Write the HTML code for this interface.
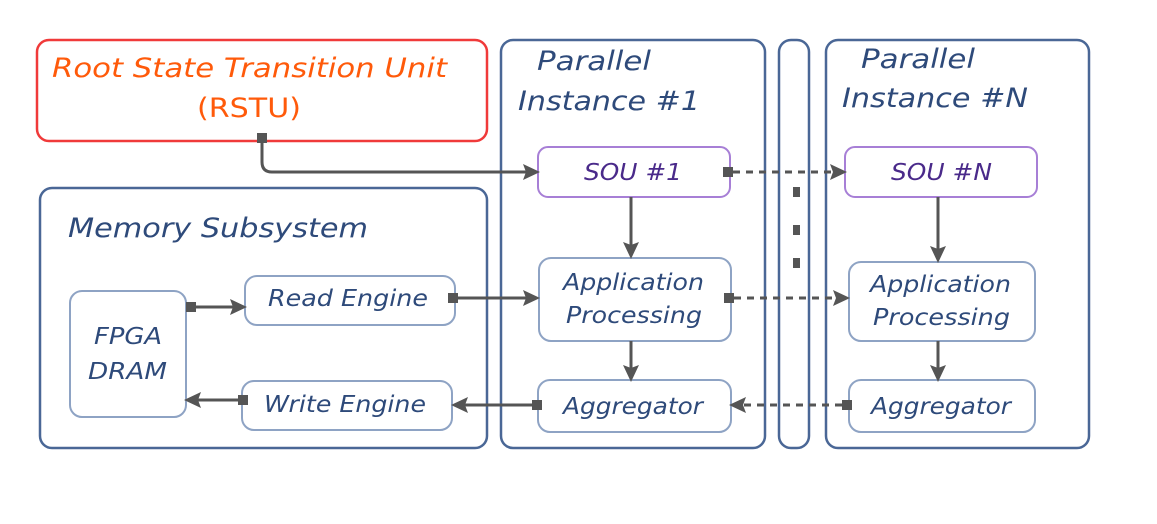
<!DOCTYPE html>
<html><head><style>
html,body{margin:0;padding:0;background:#fff;}
svg text{font-family:"DejaVu Sans","Liberation Sans",sans-serif;font-style:oblique;fill:#2e4a7a;}
</style></head><body>
<svg width="1157" height="519" viewBox="0 0 1157 519" xmlns="http://www.w3.org/2000/svg">
<defs>
<marker id="b" markerWidth="18" markerHeight="18" refX="14" refY="9" orient="auto" markerUnits="userSpaceOnUse"><path d="M0,1 L17,9 L0,17 L3,9 z" fill="#555"/></marker>
</defs>
<g fill="#fff" stroke="#4a6796" stroke-width="2.5">
<rect x="501" y="40" width="264" height="408" rx="12"/>
<rect x="779" y="40" width="30" height="408" rx="12"/>
<rect x="826" y="40" width="263" height="408" rx="12"/>
<rect x="40" y="188" width="447" height="260" rx="12"/>
</g>
<rect x="37" y="40" width="450" height="101" rx="12" fill="#fff" stroke="#f03a3a" stroke-width="2.5"/>
<g fill="#fff" stroke="#a77fd6" stroke-width="2">
<rect x="538" y="147" width="192" height="50" rx="10"/>
<rect x="845" y="147" width="192" height="50" rx="10"/>
</g>
<g fill="#fff" stroke="#8ea3c4" stroke-width="2">
<rect x="539" y="258" width="192" height="83" rx="12"/>
<rect x="849" y="262" width="186" height="79" rx="12"/>
<rect x="538" y="380" width="193" height="52" rx="12"/>
<rect x="849" y="380" width="186" height="52" rx="12"/>
<rect x="70" y="291" width="116" height="126" rx="12"/>
<rect x="245" y="276" width="210" height="49" rx="12"/>
<rect x="242" y="381" width="210" height="49" rx="12"/>
</g>
<g fill="#555">
<rect x="793" y="187" width="7" height="10"/><rect x="793" y="225" width="7" height="10"/><rect x="793" y="258" width="7" height="10"/>
<rect x="257" y="133" width="10" height="10"/>
<rect x="723" y="167" width="10" height="10"/>
<rect x="448" y="293" width="10" height="10"/>
<rect x="724" y="293" width="10" height="10"/>
<rect x="186" y="302" width="10" height="10"/>
<rect x="532" y="400" width="10" height="10"/>
<rect x="842" y="400" width="10" height="10"/>
<rect x="238" y="395" width="10" height="10"/>
</g>
<g stroke="#555" stroke-width="3" fill="none" marker-end="url(#b)">
<path d="M262,140 V162 Q262,172 272,172 H537"/>
<path d="M631,197 V256"/>
<path d="M938,197 V260"/>
<path d="M458,298 H537"/>
<path d="M631,341 V379"/>
<path d="M938,341 V379"/>
<path d="M532,405 H454"/>
<path d="M238,400 H187"/>
<path d="M196,307 H244"/>
</g>
<g stroke="#555" stroke-width="3" fill="none" stroke-dasharray="7,6" marker-end="url(#b)">
<path d="M733,172 H844"/>
<path d="M734,298 H847"/>
<path d="M842,405 H732"/>
</g>
<g lengthAdjust="spacingAndGlyphs">
<text x="52" y="77" font-size="27" textLength="395" lengthAdjust="spacingAndGlyphs" style="fill:#ff5a0a">Root State Transition Unit</text>
<text x="197" y="117" font-size="27" textLength="104" lengthAdjust="spacingAndGlyphs" style="fill:#ff5a0a;font-style:normal">(RSTU)</text>
<text x="537" y="70" font-size="27" textLength="114" lengthAdjust="spacingAndGlyphs">Parallel</text>
<text x="518" y="110" font-size="27" textLength="182" lengthAdjust="spacingAndGlyphs">Instance #1</text>
<text x="861" y="68" font-size="27" textLength="114" lengthAdjust="spacingAndGlyphs">Parallel</text>
<text x="842" y="107" font-size="27" textLength="186" lengthAdjust="spacingAndGlyphs">Instance #N</text>
<text x="68" y="237" font-size="27" textLength="300" lengthAdjust="spacingAndGlyphs">Memory Subsystem</text>
<text x="584" y="180" font-size="23" textLength="98" lengthAdjust="spacingAndGlyphs" style="fill:#4a2a8a">SOU #1</text>
<text x="891" y="180" font-size="23" textLength="101" lengthAdjust="spacingAndGlyphs" style="fill:#4a2a8a">SOU #N</text>
<text x="563" y="290" font-size="23" textLength="141" lengthAdjust="spacingAndGlyphs">Application</text>
<text x="566" y="323" font-size="23" textLength="136" lengthAdjust="spacingAndGlyphs">Processing</text>
<text x="870" y="292" font-size="23" textLength="141" lengthAdjust="spacingAndGlyphs">Application</text>
<text x="873" y="325" font-size="23" textLength="137" lengthAdjust="spacingAndGlyphs">Processing</text>
<text x="563" y="414" font-size="23" textLength="140" lengthAdjust="spacingAndGlyphs">Aggregator</text>
<text x="871" y="414" font-size="23" textLength="140" lengthAdjust="spacingAndGlyphs">Aggregator</text>
<text x="94" y="344" font-size="23" textLength="68" lengthAdjust="spacingAndGlyphs">FPGA</text>
<text x="88" y="379" font-size="23" textLength="79" lengthAdjust="spacingAndGlyphs">DRAM</text>
<text x="268" y="306" font-size="23" textLength="160" lengthAdjust="spacingAndGlyphs">Read Engine</text>
<text x="264" y="412" font-size="23" textLength="162" lengthAdjust="spacingAndGlyphs">Write Engine</text>
</g>
</svg>
</body></html>
